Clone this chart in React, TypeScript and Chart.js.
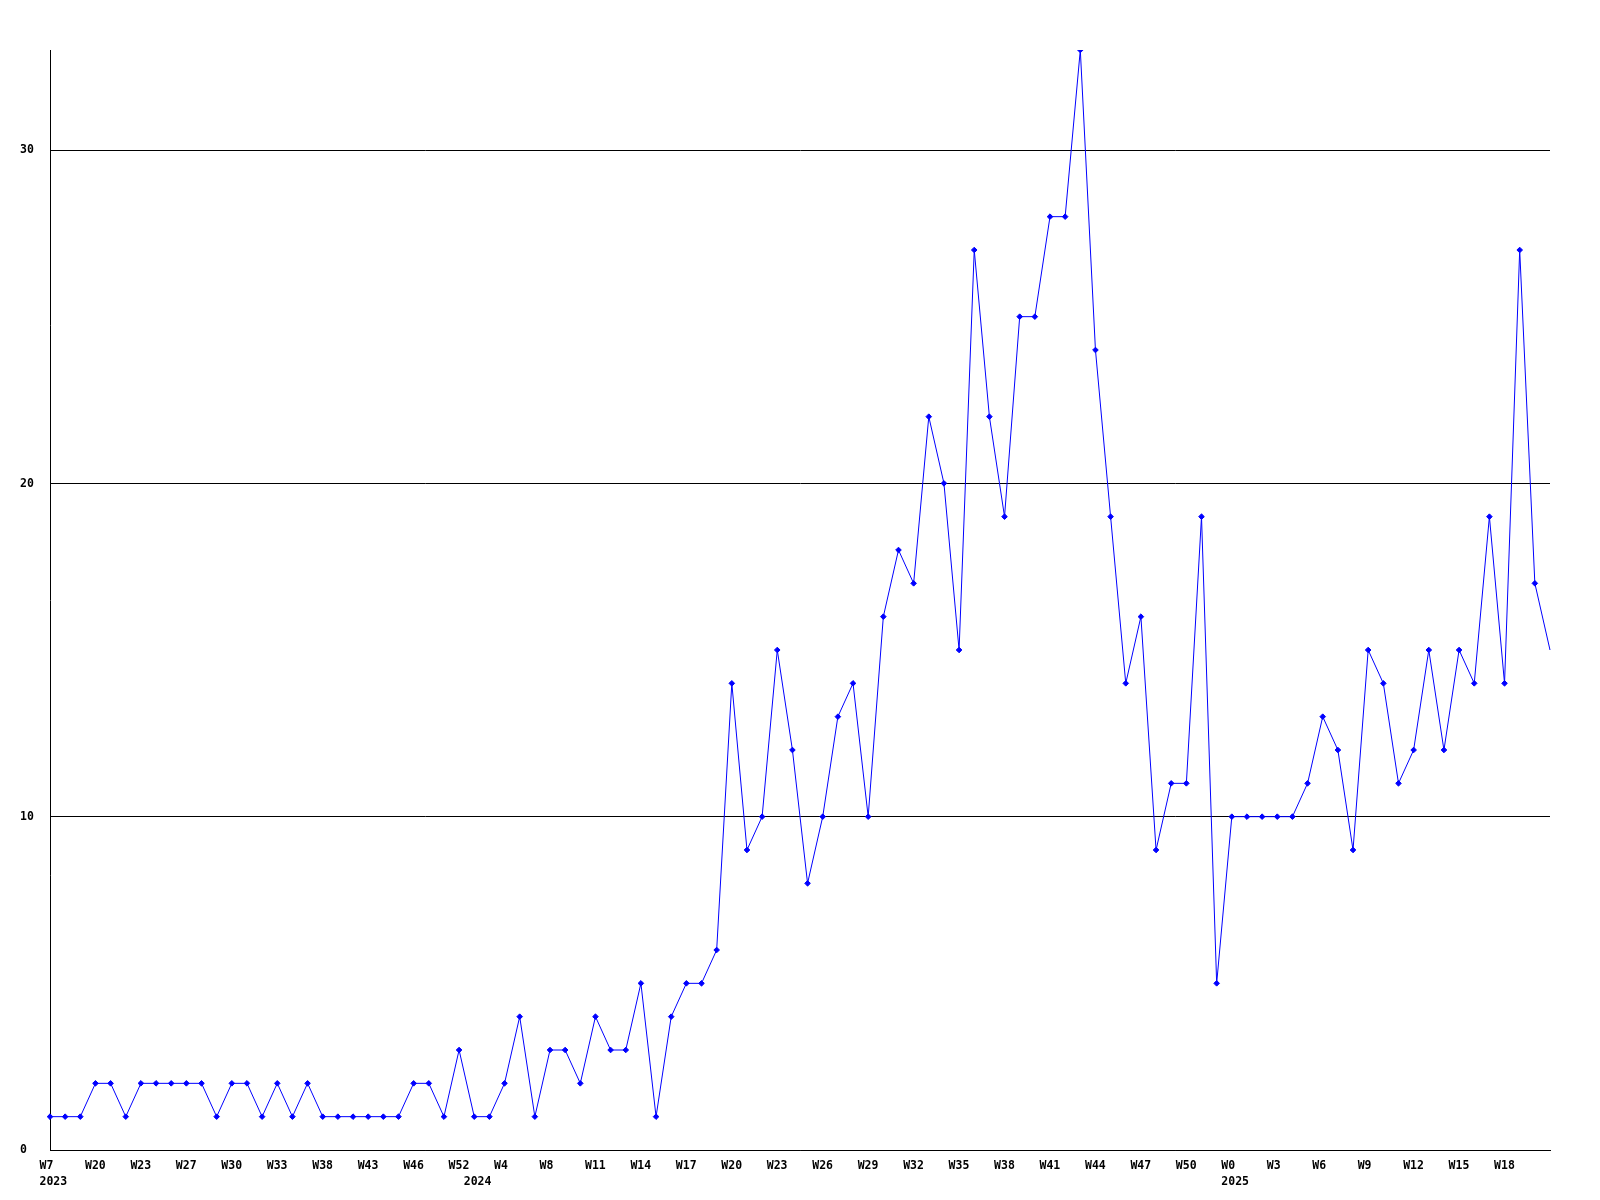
import React, { useEffect, useRef } from "react";
import { Chart, registerables } from "chart.js";

Chart.register(...registerables);

// Weekly values, one per point (100 weeks)
const values: number[] = [
  1, 1, 1, 2, 2, 1, 2, 2, 2, 2,
  2, 1, 2, 2, 1, 2, 1, 2, 1, 1,
  1, 1, 1, 1, 2, 2, 1, 3, 1, 1,
  2, 4, 1, 3, 3, 2, 4, 3, 3, 5,
  1, 4, 5, 5, 6, 14, 9, 10, 15, 12,
  8, 10, 13, 14, 10, 16, 18, 17, 22, 20,
  15, 27, 22, 19, 25, 25, 28, 28, 33, 24,
  19, 14, 16, 9, 11, 11, 19, 5, 10, 10,
  10, 10, 10, 11, 13, 12, 9, 15, 14, 11,
  12, 15, 12, 15, 14, 19, 14, 27, 17, 15,
];

// X tick labels, shown every 3rd point
const tickLabels: string[] = [
  "W7", "W20", "W23", "W27", "W30", "W33", "W38", "W43", "W46", "W52",
  "W4", "W8", "W11", "W14", "W17", "W20", "W23", "W26", "W29", "W32",
  "W35", "W38", "W41", "W44", "W47", "W50", "W0", "W3", "W6", "W9",
  "W12", "W15", "W18",
];
const tickEvery = 3;

// Year labels and the point index they sit under
const yearLabels: string[] = ["2023", "2024", "2025"];
const yearIndex: number[] = [0, 28, 78];

// Y tick labels
const yTicks: number[] = [0, 10, 20, 30];
const yMax = 33;

const categories: string[] = values.map((_, i) =>
  i % tickEvery === 0 && tickLabels[i / tickEvery] ? tickLabels[i / tickEvery] : ""
);

const FONT = 'bold 11.5px "DejaVu Sans Mono", monospace';

const labelPlugin = {
  id: "customLabels",
  afterDraw(chart: any) {
    const ctx = chart.ctx;
    const xs = chart.scales.x;
    const ys = chart.scales.y;
    ctx.save();
    ctx.fillStyle = "#000000";
    ctx.font = FONT;
    // y labels
    ctx.textAlign = "left";
    ctx.textBaseline = "middle";
    yTicks.forEach((v) => {
      ctx.fillText(String(v), 20, ys.getPixelForValue(v) + 0.5);
    });
    // x labels
    ctx.textBaseline = "alphabetic";
    tickLabels.forEach((t, k) => {
      const px = xs.getPixelForValue(k * tickEvery);
      ctx.fillText(t, px - 10.5, chart.chartArea.bottom + 18.5);
    });
    yearLabels.forEach((t, k) => {
      const px = xs.getPixelForValue(yearIndex[k]);
      ctx.fillText(t, px - 10.5, chart.chartArea.bottom + 34.5);
    });
    ctx.restore();
  },
};

export default function App() {
  const ref = useRef<HTMLCanvasElement | null>(null);
  useEffect(() => {
    if (!ref.current) return;
    const last = values.length - 1;
    const chart = new Chart(ref.current, {
      type: "line",
      data: {
        labels: categories,
        datasets: [
          {
            data: values,
            borderColor: "#0000ff",
            backgroundColor: "#0000ff",
            borderWidth: 1,
            pointStyle: "rectRot",
            pointRadius: (c: any) => (c.dataIndex === last ? 0 : 2.8),
            pointBorderWidth: 1,
            pointBorderColor: "#0000ff",
            pointBackgroundColor: "#0000ff",
            tension: 0,
            fill: false,
          },
        ],
      },
      options: {
        animation: false,
        responsive: false,
        maintainAspectRatio: false,
        layout: { padding: { left: 50, right: 50, top: 50, bottom: 50 } },
        plugins: { legend: { display: false }, tooltip: { enabled: false } },
        scales: {
          x: {
            type: "category",
            offset: false,
            grid: { display: false, drawTicks: false },
            ticks: { display: false },
            border: { display: true, color: "#000000", width: 1 },
            afterFit: (s: any) => {
              s.height = 0;
            },
          },
          y: {
            min: 0,
            max: yMax,
            ticks: { display: false, stepSize: 10, includeBounds: false },
            grid: {
              drawTicks: false,
              lineWidth: 1,
              color: (c: any) =>
                c.tick && yTicks.includes(c.tick.value) ? "#000000" : "rgba(0,0,0,0)",
            },
            border: { display: true, color: "#000000", width: 1 },
            afterFit: (s: any) => {
              s.width = 0;
            },
          },
        },
      },
      plugins: [labelPlugin],
    });
    return () => chart.destroy();
  }, []);
  return (
    <div style={{ position: "absolute", left: 0, top: 0, width: 1600, height: 1200, background: "#ffffff" }}>
      <canvas ref={ref} width={1600} height={1200} style={{ width: 1600, height: 1200, display: "block" }} />
    </div>
  );
}
